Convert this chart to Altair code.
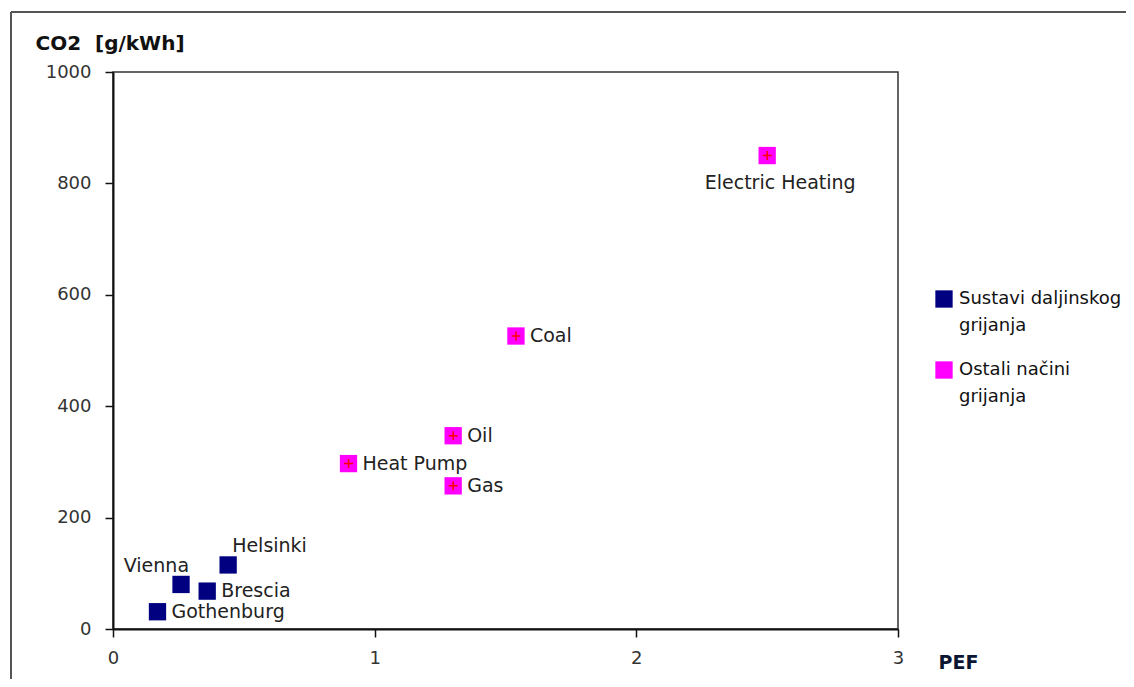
import altair as alt
import pandas as pd

names = ["Gothenburg", "Vienna", "Brescia", "Helsinki",
         "Heat Pump", "Gas", "Oil", "Coal", "Electric Heating"]
pef = [0.17, 0.26, 0.36, 0.44, 0.90, 1.30, 1.30, 1.54, 2.50]
co2 = [31, 80, 68, 115, 297, 257, 347, 526, 850]
group_names = ["Sustavi daljinskog grijanja", "Ostali načini grijanja"]
groups = [group_names[0]] * 4 + [group_names[1]] * 5
x_ticks = [0, 1, 2, 3]
y_ticks = [0, 200, 400, 600, 800, 1000]

df = pd.DataFrame({"name": names, "pef": pef, "co2": co2, "group": groups})

FONT = "DejaVu Sans"

x = alt.X("pef:Q", scale=alt.Scale(domain=[0, 3], nice=False),
          axis=alt.Axis(values=x_ticks, format="d", title="PEF", titleAngle=0,
                        titleAlign="left", titleBaseline="alphabetic",
                        titleX=825, titleY=39, titleFont=FONT,
                        titleFontSize=19, titleFontWeight="bold",
                        titleColor="#0b1633", labelFont=FONT,
                        labelFontSize=18, labelColor="#333333", labelFlush=False,
                        labelPadding=12, tickSize=8, grid=False))
y = alt.Y("co2:Q", scale=alt.Scale(domain=[0, 1000], nice=False),
          axis=alt.Axis(values=y_ticks, format="d", title="CO2\u00a0\u00a0[g/kWh]", titleAngle=0,
                        titleAlign="left", titleBaseline="alphabetic",
                        titleX=-78, titleY=-23, titleFont=FONT,
                        titleFontSize=20, titleFontWeight="bold",
                        titleColor="#111111", labelFont=FONT,
                        labelFontSize=18, labelColor="#333333", labelFlush=False,
                        labelPadding=14, tickSize=8, grid=False))

color = alt.Color("group:N",
                  scale=alt.Scale(domain=group_names, range=["#000080", "#FF00FF"]),
                  legend=alt.Legend(title=None, orient="none", legendX=822, legendY=218,
                                    symbolType="square", symbolSize=300,
                                    symbolStrokeWidth=0, labelFont=FONT,
                                    labelFontSize=18, labelColor="#111111",
                                    labelOffset=6, rowPadding=26, padding=0,
                                    labelBaseline="middle", labelLimit=300,
                                    labelExpr="[replace(datum.label, ' grijanja', ''), 'grijanja']"))

base = alt.Chart(df)

points = base.mark_point(shape="square", filled=True, size=300, opacity=1).encode(
    x=x, y=y, color=color)

plus = base.transform_filter(alt.datum.group == group_names[1]).mark_point(
    shape="M-1,0H1M0,-1V1", filled=False, stroke="#FF0000", strokeWidth=1.5,
    size=81, opacity=1).encode(x="pef:Q", y="co2:Q")

text_style = dict(font=FONT, fontSize=19, color="#222222", baseline="middle")

right_names = ["Gothenburg", "Brescia", "Heat Pump", "Gas", "Oil", "Coal"]
lbl_right = base.transform_filter(alt.FieldOneOfPredicate(field="name", oneOf=right_names)).mark_text(
    align="left", dx=14, dy=0, **text_style).encode(x="pef:Q", y="co2:Q", text="name:N")
lbl_below = base.transform_filter(alt.datum.name == "Electric Heating").mark_text(
    align="center", dx=13, dy=27, **text_style).encode(x="pef:Q", y="co2:Q", text="name:N")
lbl_above_r = base.transform_filter(alt.datum.name == "Helsinki").mark_text(
    align="left", dx=4, dy=-19, **text_style).encode(x="pef:Q", y="co2:Q", text="name:N")
lbl_above_l = base.transform_filter(alt.datum.name == "Vienna").mark_text(
    align="right", dx=8, dy=-18, **text_style).encode(x="pef:Q", y="co2:Q", text="name:N")

frame_left = alt.Chart(df).mark_rule(color="#555555", strokeWidth=2, clip=False).encode(
    x=alt.value(-102), y=alt.value(-60), y2=alt.value(640))
frame_top = alt.Chart(df).mark_rule(color="#555555", strokeWidth=2, clip=False).encode(
    x=alt.value(-102), x2=alt.value(1040), y=alt.value(-60))

chart = alt.layer(points, plus, lbl_right, lbl_below, lbl_above_r, lbl_above_l,
                  frame_left, frame_top).properties(
    width=785, height=557,
    autosize=alt.AutoSizeParams(type="none"),
    padding={"left": 105, "top": 64, "right": 228, "bottom": 50},
    background="white",
).configure(
    style={"guide-label": {"lineHeight": 27}}
).configure_view(
    stroke="#333333", strokeWidth=1.5
).configure_axis(
    domainColor="#111111", domainWidth=2, tickColor="#111111", tickWidth=1.5
)

chart.save("out.html", embed_options={"renderer": "svg", "actions": False})
